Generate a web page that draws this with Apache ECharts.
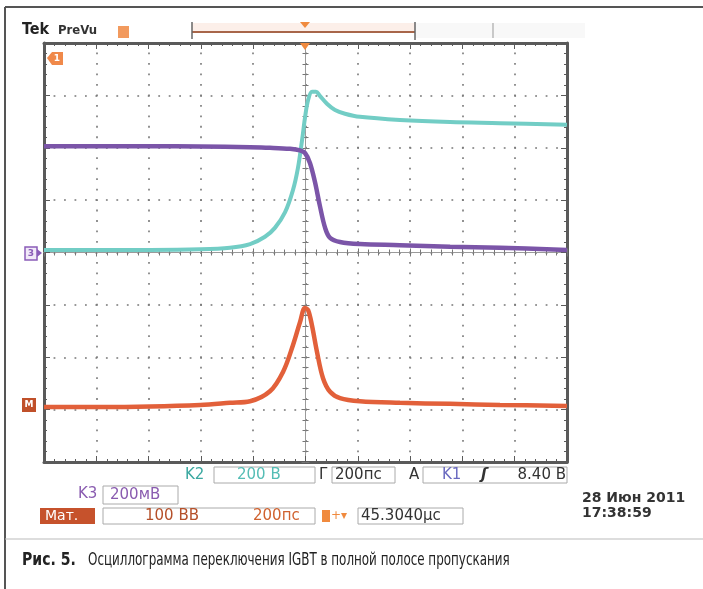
<!DOCTYPE html>
<html><head><meta charset="utf-8">
<script src="https://cdn.jsdelivr.net/npm/echarts@6/dist/echarts.min.js"></script>
<style>html,body{margin:0;padding:0;background:#fff}#c{width:703px;height:589px}</style>
</head><body><div id="c"></div>
<script>
// time in ns (200 ns/div, trigger at 0), amplitude in screen divisions
const purpleT = [-1000,-786,-595,-403,-212,-136,-59,-21,-2,17,36,55,75,94,132,208,361,553,744,1000];
const purpleV = [2.03,2.03,2.03,2.025,2.01,2.00,1.98,1.95,1.90,1.71,1.35,0.89,0.47,0.28,0.20,0.16,0.14,0.11,0.09,0.05];
const cyanT = [-1000,-595,-403,-289,-212,-155,-117,-78,-48,-29,-13,-2,10,25,40,55,82,113,151,208,361,553,744,1000];
const cyanV = [0.05,0.05,0.06,0.09,0.16,0.30,0.47,0.77,1.19,1.61,2.15,2.57,2.91,3.07,3.07,2.99,2.84,2.72,2.65,2.59,2.53,2.49,2.47,2.44];
const orangeT = [-1000,-786,-595,-403,-289,-212,-136,-86,-48,-21,-2,10,25,44,67,94,132,208,361,553,744,1000];
const orangeV = [-2.95,-2.95,-2.94,-2.91,-2.87,-2.84,-2.65,-2.28,-1.77,-1.33,-1.06,-1.10,-1.40,-1.90,-2.40,-2.66,-2.78,-2.84,-2.87,-2.89,-2.91,-2.93];
const xTicks = {min:-1000, max:1000, interval:200};
const yTicks = {min:-4, max:4, interval:1};

const zip = (a,b)=>a.map((v,i)=>[v,b[i]]);
const chart = echarts.init(document.getElementById('c'), null, {renderer:'canvas'});
const dots = {show:true, lineStyle:{color:'#777', width:1.6, type:[1.8,8.67], dashOffset:0.9}};
const border = (extra)=>Object.assign({
  axisLine:{show:true, onZero:false, lineStyle:{color:'#5a5a5a', width:3}},
  axisTick:{show:true, inside:true, length:6, lineStyle:{color:'#5a5a5a', width:1}},
  minorTick:{show:true, splitNumber:5, length:3, lineStyle:{color:'#5a5a5a', width:1}},
  axisLabel:{show:false}, splitLine:{show:false}
}, extra);
const center = (inside, extra)=>Object.assign({
  axisLine:{show:true, onZero:true, lineStyle:{color:'#9a9a9a', width:1}},
  axisTick:{show:true, inside:inside, length:4, lineStyle:{color:'#777', width:1}},
  minorTick:{show:true, splitNumber:5, length:3, lineStyle:{color:'#777', width:1}},
  axisLabel:{show:false}, splitLine:{show:false}
}, extra);

const T = (text,x,y,fill,font,align)=>({type:'text', z:100, style:{text, x, y, fill, font, align:align||'left', verticalAlign:'middle'}});
const TS = (text,x,y,fill,font,sx)=>({type:'text', z:100, x, y, scaleX:sx, style:{text, x:0, y:0, fill, font, align:'left', verticalAlign:'middle'}});
const R = (x,y,w,h,fill,stroke,lw)=>({type:'rect', z:90, shape:{x,y,width:w,height:h}, style:{fill:fill||'none', stroke:stroke||'none', lineWidth:lw||1}});
const L = (x1,y1,x2,y2,stroke,lw)=>({type:'line', z:95, shape:{x1,y1,x2,y2}, style:{stroke, lineWidth:lw||1}});
const scope = '15px "DejaVu Sans"';
const capFont = '"DejaVu Sans Condensed", sans-serif';

chart.setOption({
  animation:false,
  backgroundColor:'#fff',
  grid:{left:44, top:43, width:523, height:419, containLabel:false},
  xAxis:[
    border(Object.assign({type:'value', position:'bottom', gridIndex:0, splitLine:dots}, xTicks)),
    border(Object.assign({type:'value', position:'top', gridIndex:0}, xTicks)),
    center(true, Object.assign({type:'value', position:'bottom', gridIndex:0}, xTicks)),
    center(false, Object.assign({type:'value', position:'bottom', gridIndex:0}, xTicks))
  ],
  yAxis:[
    border(Object.assign({type:'value', position:'left', gridIndex:0, splitLine:dots}, yTicks)),
    border(Object.assign({type:'value', position:'right', gridIndex:0}, yTicks)),
    center(true, Object.assign({type:'value', position:'left', gridIndex:0}, yTicks)),
    center(false, Object.assign({type:'value', position:'left', gridIndex:0}, yTicks))
  ],
  series:[
    {type:'line', name:'K2', data:zip(cyanT,cyanV), showSymbol:false, smooth:0.35, z:3,
     lineStyle:{color:'#72cdc5', width:4}},
    {type:'line', name:'K3', data:zip(purpleT,purpleV), showSymbol:false, smooth:0.35, z:4,
     lineStyle:{color:'#7b55a8', width:4.5}},
    {type:'line', name:'M', data:zip(orangeT,orangeV), showSymbol:false, smooth:0.35, z:5,
     lineStyle:{color:'#e2603a', width:4.5}}
  ],
  graphic:[
    // frame
    L(5,7,703,7,'#555',2), L(5,7,5,589,'#555',2), L(5,539,703,539,'#bbb',1),
    // top bar
    T('Tek',22,30,'#222','bold 16px "DejaVu Sans Condensed"'),
    T('PreVu',58,31,'#333','bold 13px "DejaVu Sans Condensed"'),
    R(118,26,11,12,'#f29a5e'),
    R(192,23,223,9,'#fcefe9'),
    R(415,23,170,15,'#f8f8f8'),
    L(192,32,415,32,'#a8664a',2),
    L(192,22,192,39,'#666',1.5), L(415,22,415,40,'#666',1.5), L(493,23,493,38,'#999',1),
    {type:'polygon', z:96, shape:{points:[[300,22],[310,22],[305,28]]}, style:{fill:'#f08a3e'}},
    {type:'polygon', z:96, shape:{points:[[300,43],[310,43],[305,50]]}, style:{fill:'#f08a3e'}},
    // channel markers
    {type:'polygon', z:96, shape:{points:[[47,58],[52,52],[63,52],[63,65],[52,65]]}, style:{fill:'#f0894a'}},
    T('1',57,58.5,'#fff','bold 9px "DejaVu Sans"','center'),
    R(25,247,12,13,'#f1e9f8','#8a5cb8',1.5),
    T('3',31,253.5,'#8a5cb8','bold 9px "DejaVu Sans"','center'),
    {type:'polygon', z:96, shape:{points:[[37,249],[42,253],[37,257]]}, style:{fill:'#8a5cb8'}},
    R(22,398,14,14,'#c0502a'),
    T('M',29,405,'#fff','bold 9px "DejaVu Sans"','center'),
    // readout row 1
    T('K2',185,475,'#3ba8a0',scope),
    R(214,467,101,16,'#fff','#aaa',1),
    T('200 В',237,475,'#55bdb5',scope),
    T('Г',319,475,'#333',scope),
    R(332,467,63,16,'#fff','#aaa',1),
    T('200пс',335,475,'#333',scope),
    T('A',409,475,'#333',scope),
    R(423,467,144,16,'#fff','#aaa',1),
    T('K1',442,475,'#6a6ac0',scope),
    T('ʃ',481,475,'#333','italic bold 15px "DejaVu Sans"'),
    T('8.40 В',566,475,'#333',scope,'right'),
    // row 2
    T('K3',78,494,'#8a5cb0',scope),
    R(103,486,75,18,'#fff','#aaa',1),
    T('200мВ',110,495,'#8a5cb0',scope),
    // row 3
    R(40,508,55,16,'#c6522c'),
    T('Мат.',45,516,'#fff','14px "DejaVu Sans"'),
    R(103,508,212,16,'#fff','#aaa',1),
    T('100 ВВ',145,516,'#b5502a',scope),
    T('200пс',253,516,'#d0622f',scope),
    R(322,510,8,12,'#f08a3e'),
    T('+▾',331,516,'#f08a3e','12px "DejaVu Sans"'),
    R(358,508,105,16,'#fff','#aaa',1),
    T('45.3040μс',361,516,'#333',scope),
    // date
    T('28 Июн 2011',582,498,'#333','bold 14px "DejaVu Sans"'),
    T('17:38:59',582,513,'#333','bold 14px "DejaVu Sans"'),
    // caption
    TS('Рис. 5.',22,561,'#222','bold 17px '+capFont,0.92),
    TS('Осциллограмма переключения IGBT в полной полосе пропускания',88,561,'#222','17px '+capFont,0.78)
  ]
});
</script></body></html>
